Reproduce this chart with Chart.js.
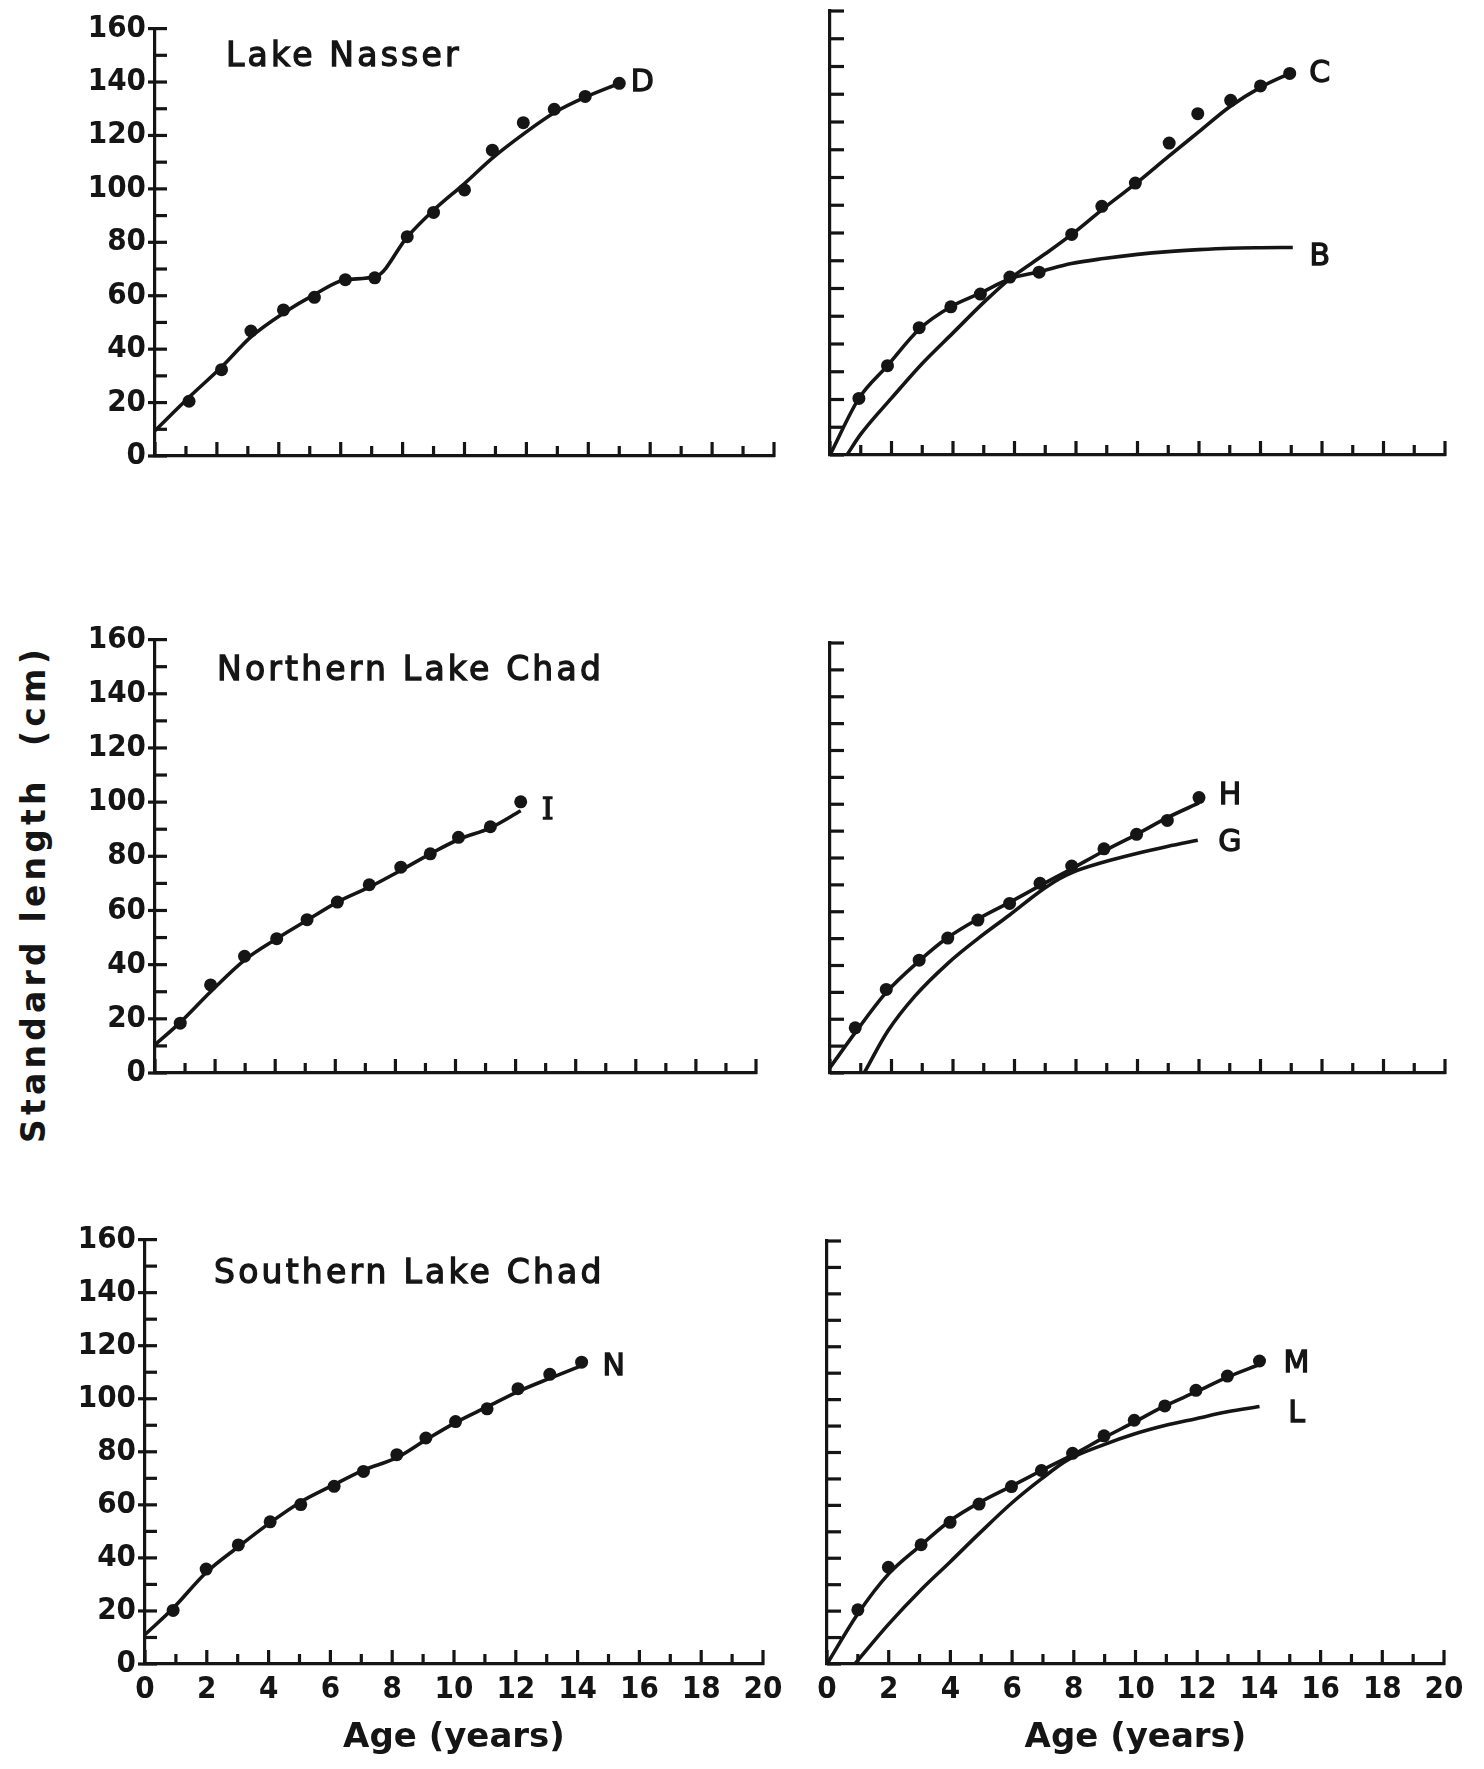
<!DOCTYPE html>
<html>
<head>
<meta charset="utf-8">
<script src="https://cdn.jsdelivr.net/npm/chart.js@4.4.0/dist/chart.umd.min.js"></script>
<style>
  html, body { margin: 0; padding: 0; background: #fff; }
  body { width: 1484px; height: 1769px; position: relative; overflow: hidden; }
  canvas.panel { position: absolute; }
  #ytitle {
    position: absolute; left: 33px; top: 894px;
    transform: translate(-50%, -50%) rotate(-90deg);
    font: bold 33px "DejaVu Sans", sans-serif; letter-spacing: 4.2px;
    white-space: pre; color: #151515;
  }
</style>
</head>
<body>
<div id="ytitle">Standard length  (cm)</div>
<canvas id="nasserObs" class="panel"></canvas>
<canvas id="nasserFit" class="panel"></canvas>
<canvas id="northObs" class="panel"></canvas>
<canvas id="northFit" class="panel"></canvas>
<canvas id="southObs" class="panel"></canvas>
<canvas id="southFit" class="panel"></canvas>
<script>
// ---- tick labels ----
const ageTicks = [0, 2, 4, 6, 8, 10, 12, 14, 16, 18, 20];
const lengthTicks = [0, 20, 40, 60, 80, 100, 120, 140, 160];

// ---- Lake Nasser, left panel (curve D) ----
const nasserAge = [1.1, 2.15, 3.1, 4.15, 5.15, 6.15, 7.1, 8.15, 9.0, 10.0, 10.9, 11.9, 12.9, 13.9, 15.0];
const nasserLength = [20.5, 32.3, 46.8, 54.7, 59.4, 66, 66.7, 82.1, 91.2, 99.6, 114.5, 124.8, 129.8, 134.6, 139.5];
const curveDAge = [0, 1.1, 2.15, 3.1, 4.15, 5.15, 6.15, 7.15, 8.15, 9.0, 10.0, 10.9, 11.9, 12.9, 13.9, 15.0];
const curveDLength = [9.5, 22, 33.3, 44.6, 53.5, 60.4, 66, 67.3, 82, 92, 102, 111.5, 120.5, 128.5, 134.3, 139.5];

// ---- Lake Nasser, right panel (curves C and B) ----
const nasserAgeR = [0.94, 1.87, 2.9, 3.93, 4.89, 5.85, 6.8, 7.86, 8.84, 9.93, 11.03, 11.96, 13.03, 14.0, 14.95];
const nasserLengthR = [20.4, 32.2, 45.9, 53.4, 58, 64.1, 65.9, 79.5, 89.6, 98, 112.4, 123, 127.8, 133, 137.5];
const curveCAge = [0.55, 1, 2, 3, 4, 5, 5.85, 7, 8, 9, 10, 11, 12, 13, 14, 15.05];
const curveCLength = [0, 7.5, 20.5, 33, 44, 55, 63.5, 72.5, 80.7, 89.8, 98.3, 107.5, 116.5, 125.5, 132.5, 138];
const curveBAge = [0, 0.94, 1.87, 2.9, 3.93, 4.89, 5.85, 6.8, 7.85, 8.9, 10, 11, 12, 13, 14, 15.05];
const curveBLength = [0, 20.4, 32.2, 45.3, 53.4, 58.3, 63.5, 66, 69, 70.8, 72.3, 73.3, 74, 74.5, 74.7, 74.8];

// ---- Northern Lake Chad, left panel (curve I) ----
const northAge = [0.84, 1.85, 2.98, 4.05, 5.06, 6.07, 7.13, 8.18, 9.16, 10.1, 11.16, 12.17];
const northLength = [18.4, 32.5, 43.1, 49.6, 56.6, 63.1, 69.5, 76, 80.9, 87, 90.9, 100.1];
const curveIAge = [0, 0.84, 1.85, 2.98, 4.05, 5.06, 6.07, 7.13, 8.18, 9.16, 10.1, 11.16, 12.17];
const curveILength = [10.4, 18.7, 30, 41.7, 49.6, 56.4, 63.1, 68.6, 74.8, 80.9, 86.2, 90.5, 96.8];

// ---- Northern Lake Chad, right panel (curves H and G) ----
const northAgeR = [0.82, 1.83, 2.9, 3.83, 4.81, 5.84, 6.83, 7.86, 8.91, 9.97, 10.97, 12.0];
const northLengthR = [16.8, 31.1, 42, 50.2, 56.9, 63.1, 70.6, 77, 83.4, 88.8, 94, 102.5];
const curveHAge = [0, 0.82, 1.83, 2.9, 3.83, 4.81, 5.84, 6.83, 7.86, 8.91, 9.97, 10.97, 12.0];
const curveHLength = [2, 15, 30, 41.7, 50.4, 57.3, 63.5, 69.7, 76, 82.6, 88.8, 95, 100.5];
const curveGAge = [1.11, 1.88, 2.76, 3.86, 4.81, 5.84, 6.86, 7.45, 7.89, 8.91, 9.94, 10.97, 11.96];
const curveGLength = [0, 15.6, 28.6, 41.1, 50, 58.8, 67.8, 72.2, 74.7, 78.5, 81.6, 84.3, 86.6];

// ---- Southern Lake Chad, left panel (curve N) ----
const southAge = [0.91, 1.98, 3.02, 4.05, 5.04, 6.12, 7.07, 8.15, 9.09, 10.05, 11.07, 12.07, 13.1, 14.13];
const southLength = [20.2, 35.8, 44.9, 53.6, 60.1, 67, 72.6, 78.9, 85.2, 91.4, 96.2, 103.8, 109.2, 113.8];
const curveNAge = [0, 0.91, 1.98, 3.02, 4.05, 5.04, 6.12, 7.07, 8.15, 9.09, 10.05, 11.07, 12.07, 13.1, 14.13];
const curveNLength = [11.1, 21, 34.5, 44.2, 53.3, 61.1, 67.6, 73.1, 77.8, 84.5, 91, 96.9, 102.7, 107.7, 112.5];

// ---- Southern Lake Chad, right panel (curves M and L) ----
const southAgeR = [1.0, 1.99, 3.05, 3.99, 4.93, 5.98, 6.95, 7.96, 8.98, 9.96, 10.95, 11.96, 12.98, 14.02];
const southLengthR = [20.5, 36.6, 45.1, 53.6, 60.5, 67.1, 73.2, 79.7, 86.3, 92.2, 97.6, 103.5, 108.9, 114.6];
const curveMAge = [0, 1.0, 1.99, 3.05, 3.99, 4.93, 5.98, 6.95, 7.96, 8.98, 9.96, 10.95, 11.96, 12.98, 14.02];
const curveMLength = [0, 19, 34, 45, 54.2, 61, 67.3, 73.2, 79.1, 85.6, 91.5, 97.6, 102.9, 108.5, 113.3];
const curveLAge = [0.9, 1.99, 3.05, 3.99, 4.93, 5.98, 6.95, 7.79, 8.98, 9.96, 10.95, 11.96, 12.98, 14.02];
const curveLLength = [0, 15, 28.1, 38.6, 49.3, 60.8, 70, 77.1, 83, 87, 90.2, 92.8, 95.4, 97.4];

const ink = '#151515';
const tickFamily = '"DejaVu Sans Condensed", "DejaVu Sans", sans-serif';
const labelFont = '30px "DejaVu Sans", sans-serif';

function toXY(xs, ys) {
    return xs.map((x, i) => ({ x: x, y: ys[i] }));
}

function dots(xs, ys) {
    return {
        data: toXY(xs, ys),
        showLine: false,
        pointRadius: 6.5,
        pointBackgroundColor: ink,
        pointBorderWidth: 0,
        clip: false
    };
}

function curve(xs, ys, label, dx, dy, font) {
    return {
        data: toXY(xs, ys),
        showLine: true,
        pointRadius: 0,
        borderColor: ink,
        borderWidth: 3.6,
        cubicInterpolationMode: 'monotone',
        clip: false,
        endLabel: label,
        labelDx: dx,
        labelDy: dy,
        labelFont: font || labelFont
    };
}

// inward tick marks, one per year and one per 10 cm
const inkTicks = {
    id: 'inkTicks',
    afterDraw(chart, args, opts) {
        const { ctx } = chart;
        const x = chart.scales.x, y = chart.scales.y;
        const x0 = x.getPixelForValue(0), y0 = y.getPixelForValue(0);
        ctx.save();
        ctx.strokeStyle = ink;
        ctx.lineWidth = 3.2;
        for (let a = 0; a <= 20; a++) {
            const px = x.getPixelForValue(a);
            const len = a % 2 === 0 ? 14 : 10;
            ctx.beginPath();
            ctx.moveTo(px, y0 + 1);
            ctx.lineTo(px, y0 - len);
            ctx.stroke();
        }
        for (let v = 0; v <= 160; v += 10) {
            const py = y.getPixelForValue(v);
            const stub = opts.stub && v % 20 === 0 ? 7 : 0;
            ctx.beginPath();
            ctx.moveTo(x0 - stub, py);
            ctx.lineTo(x0 + (opts.stub ? 12 : 14), py);
            ctx.stroke();
        }
        ctx.restore();
    }
};

// panel title and curve letters (filled and lightly stroked for a lettering-pen weight)
const annotate = {
    id: 'annotate',
    afterDatasetsDraw(chart, args, opts) {
        const { ctx, chartArea } = chart;
        ctx.save();
        ctx.fillStyle = ink;
        ctx.strokeStyle = ink;
        ctx.lineWidth = 1.3;
        ctx.textBaseline = 'middle';
        if (opts.title) {
            ctx.font = '33px "DejaVu Sans", sans-serif';
            ctx.letterSpacing = '3.2px';
            ctx.textAlign = 'left';
            const tx = chartArea.left + opts.dx, ty = chartArea.top + opts.dy;
            ctx.fillText(opts.title, tx, ty);
            ctx.strokeText(opts.title, tx, ty);
        }
        ctx.letterSpacing = '0px';
        ctx.textAlign = 'center';
        chart.data.datasets.forEach((ds, i) => {
            if (!ds.endLabel) return;
            const pts = chart.getDatasetMeta(i).data;
            const last = pts[pts.length - 1];
            ctx.font = ds.labelFont;
            ctx.fillText(ds.endLabel, last.x + ds.labelDx, last.y + ds.labelDy);
            ctx.strokeText(ds.endLabel, last.x + ds.labelDx, last.y + ds.labelDy);
        });
        ctx.restore();
    }
};

function makePanel(id, box, datasets, title) {
    const padTop = 25, padRight = 30;
    const yW = box.yLabels ? box.left : 30;
    const xH = box.xLabels ? 1769 - box.bottom : 40;
    const w = yW + (box.right - box.left) + padRight;
    const h = padTop + (box.bottom - box.top) + xH;
    const canvas = document.getElementById(id);
    canvas.width = w;
    canvas.height = h;
    canvas.style.width = w + 'px';
    canvas.style.height = h + 'px';
    canvas.style.left = (box.left - yW) + 'px';
    canvas.style.top = (box.top - padTop) + 'px';

    new Chart(canvas, {
        type: 'scatter',
        data: { datasets: datasets },
        plugins: [inkTicks, annotate],
        options: {
            responsive: false,
            animation: false,
            events: [],
            layout: { padding: { top: padTop, right: padRight, left: 0, bottom: 0 } },
            plugins: {
                legend: { display: false },
                tooltip: { enabled: false },
                inkTicks: { stub: box.yLabels },
                annotate: title || {}
            },
            scales: {
                x: {
                    type: 'linear',
                    min: 0,
                    max: 20,
                    afterFit: s => { s.height = xH; },
                    afterBuildTicks: s => { s.ticks = ageTicks.map(v => ({ value: v })); },
                    grid: { display: false, drawTicks: false },
                    border: { display: true, color: ink, width: 3.2 },
                    ticks: {
                        display: !!box.xLabels,
                        color: ink,
                        padding: 7,
                        maxRotation: 0,
                        font: { family: tickFamily, size: 31, weight: 'bold' }
                    },
                    title: {
                        display: !!box.xLabels,
                        text: 'Age (years)',
                        color: ink,
                        font: { family: '"DejaVu Sans", sans-serif', size: 34, weight: 'bold' },
                        padding: { top: 0, bottom: 10 }
                    }
                },
                y: {
                    type: 'linear',
                    min: 0,
                    max: 160,
                    afterFit: s => { s.width = yW; },
                    afterBuildTicks: s => { s.ticks = lengthTicks.map(v => ({ value: v })); },
                    grid: { display: false, drawTicks: false },
                    border: { display: true, color: ink, width: 3.2 },
                    ticks: {
                        display: !!box.yLabels,
                        color: ink,
                        padding: 9,
                        font: { family: tickFamily, size: 31, weight: 'bold' }
                    }
                }
            }
        }
    });
}

makePanel('nasserObs', { left: 155, right: 774, top: 26, bottom: 456, yLabels: true }, [
    dots(nasserAge, nasserLength),
    curve(curveDAge, curveDLength, 'D', 23, 0)
], { title: 'Lake Nasser', dx: 71, dy: 29 });

makePanel('nasserFit', { left: 830, right: 1445, top: 11, bottom: 455 }, [
    dots(nasserAgeR, nasserLengthR),
    curve(curveCAge, curveCLength, 'C', 27, 2),
    curve(curveBAge, curveBLength, 'B', 27, 10)
]);

makePanel('northObs', { left: 155, right: 756, top: 637, bottom: 1073, yLabels: true }, [
    dots(northAge, northLength),
    curve(curveIAge, curveILength, 'I', 27, 0, '30px "DejaVu Serif", serif')
], { title: 'Northern Lake Chad', dx: 62, dy: 32 });

makePanel('northFit', { left: 830, right: 1445, top: 643, bottom: 1073 }, [
    dots(northAgeR, northLengthR),
    curve(curveHAge, curveHLength, 'H', 31, -7),
    curve(curveGAge, curveGLength, 'G', 32, 3)
]);

makePanel('southObs', { left: 145, right: 763, top: 1237, bottom: 1664, yLabels: true, xLabels: true }, [
    dots(southAge, southLength),
    curve(curveNAge, curveNLength, 'N', 32, 2)
], { title: 'Southern Lake Chad', dx: 69, dy: 35 });

makePanel('southFit', { left: 827, right: 1444, top: 1241, bottom: 1664, xLabels: true }, [
    dots(southAgeR, southLengthR),
    curve(curveMAge, curveMLength, 'M', 37, 0),
    curve(curveLAge, curveLLength, 'L', 37, 8)
]);
</script>
</body>
</html>
